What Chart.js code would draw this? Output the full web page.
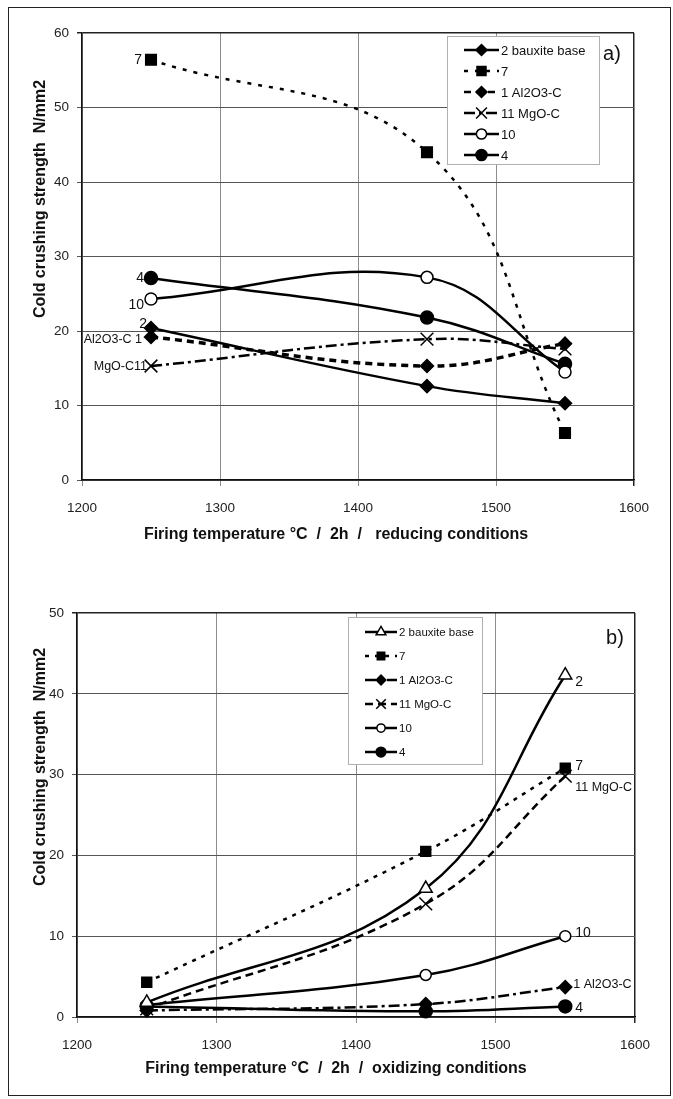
<!DOCTYPE html>
<html>
<head>
<meta charset="utf-8">
<script src="https://cdn.jsdelivr.net/npm/chart.js@4.4.1/dist/chart.umd.min.js"></script>
<style>
    body { margin: 0; background: #fff; }
    #frame { position: absolute; left: 8px; top: 7px; width: 663px; height: 1089px; border: 1px solid #222; box-sizing: border-box; }
    .panel { position: absolute; left: 0; }
</style>
</head>
<body>
<div id="frame"></div>
<canvas id="chartA" class="panel" style="top:0" width="673" height="550"></canvas>
<canvas id="chartB" class="panel" style="top:549px" width="673" height="550"></canvas>
<script>
// firing temperatures (°C)
const temps = [1250, 1450, 1550];

// a) reducing conditions, cold crushing strength N/mm2
const bauxiteA = [20.4, 12.6, 10.3];
const mix7A = [56.4, 44.0, 6.3];
const al2o3A = [19.2, 15.3, 18.3];
const mgoA = [15.3, 18.9, 17.6];
const mix10A = [24.3, 27.2, 14.5];
const mix4A = [27.1, 21.8, 15.6];

// b) oxidizing conditions
const bauxiteB = [1.8, 15.9, 42.3];
const mix7B = [4.3, 20.5, 30.8];
const al2o3B = [0.8, 1.6, 3.7];
const mgoB = [1.0, 14.0, 29.8];
const mix10B = [1.5, 5.2, 10.0];
const mix4B = [1.3, 0.7, 1.3];

const legendA = ['2 bauxite base', '7', '1 Al2O3-C', '11 MgO-C', '10', '4'];
const legendB = ['2 bauxite base', '7', '1 Al2O3-C', '11 MgO-C', '10', '4'];
const pointLabelsA = ['2', '7', 'Al2O3-C 1', 'MgO-C11', '10', '4'];
const pointLabelsB = ['2', '7', '1 Al2O3-C', '11 MgO-C', '10', '4'];

const FONT = "'Liberation Sans', Arial, sans-serif";

// line / marker looks
const stylesA = [
    { dash: [], width: 2.5, point: 'rectRot', r: 6.5, fill: '#000' },
    { dash: [4, 7], width: 2.5, point: 'rect', r: 7.5, fill: '#000' },
    { dash: [7, 5], width: 3.5, point: 'rectRot', r: 6.5, fill: '#000' },
    { dash: [11, 4, 3, 4], width: 2.5, point: 'crossRot', r: 9, fill: '#000' },
    { dash: [], width: 2.5, point: 'circle', r: 6, fill: '#fff' },
    { dash: [], width: 2.5, point: 'circle', r: 6.5, fill: '#000' }
];
const stylesB = [
    { dash: [], width: 2.5, point: 'triangle', r: 7.5, fill: '#fff' },
    { dash: [4, 6], width: 2.5, point: 'rect', r: 7, fill: '#000' },
    { dash: [11, 4, 3, 4], width: 2.5, point: 'rectRot', r: 6.5, fill: '#000' },
    { dash: [8, 5], width: 2.5, point: 'crossRot', r: 9, fill: '#000' },
    { dash: [], width: 2.5, point: 'circle', r: 5.5, fill: '#fff' },
    { dash: [], width: 2.5, point: 'circle', r: 6.5, fill: '#000' }
];
// label offsets from the point they belong to
const labelOffsetsA = [[-4, -4], [-9, 0], [-9, 3], [-4, 1], [-7, 6], [-7, 0]];
const labelOffsetsB = [[10, 7], [10, -2], [8, -3], [10, 11], [10, -3], [10, 2]];

function buildDatasets(seriesList, names, styles) {
    return seriesList.map((vals, i) => ({
        label: names[i],
        data: vals.map((v, k) => ({ x: temps[k], y: v })),
        borderColor: '#000',
        borderWidth: styles[i].width,
        borderDash: styles[i].dash,
        tension: 0.4,
        pointStyle: styles[i].point,
        pointRadius: styles[i].r,
        pointBackgroundColor: styles[i].fill,
        pointBorderColor: '#000',
        pointBorderWidth: 1.5,
        clip: false
    }));
}

function decorations(cfg) {
    return {
        id: 'decor',
        afterDatasetsDraw(chart) {
            const ctx = chart.ctx;
            ctx.save();
            ctx.fillStyle = '#111';
            ctx.textBaseline = 'middle';
            chart.data.datasets.forEach((ds, i) => {
                const meta = chart.getDatasetMeta(i);
                const pt = meta.data[cfg.labelIndex];
                const off = cfg.labelOffsets[i];
                const txt = cfg.pointLabels[i];
                ctx.font = (txt.length > 3 ? '12.5px ' : '14px ') + FONT;
                ctx.textAlign = cfg.labelAlign;
                ctx.fillText(txt, pt.x + off[0], pt.y + off[1]);
            });
            ctx.restore();
        },
        afterDraw(chart) {
            const ctx = chart.ctx;
            const lg = cfg.legend;
            ctx.save();
            // legend box
            ctx.fillStyle = '#fff';
            ctx.fillRect(lg.x, lg.y, lg.w, lg.h);
            ctx.strokeStyle = '#b0b0b0';
            ctx.lineWidth = 1;
            ctx.strokeRect(lg.x + 0.5, lg.y + 0.5, lg.w, lg.h);
            chart.data.datasets.forEach((ds, i) => {
                const st = cfg.styles[i];
                const y = lg.row0 + i * lg.rowH;
                ctx.strokeStyle = '#000';
                ctx.lineWidth = Math.min(st.width, 2.5);
                ctx.setLineDash(st.dash);
                ctx.beginPath();
                ctx.moveTo(lg.s0, y);
                ctx.lineTo(lg.s1, y);
                ctx.stroke();
                ctx.setLineDash([]);
                ctx.fillStyle = st.fill;
                ctx.lineWidth = 1.5;
                Chart.helpers.drawPoint(ctx, { pointStyle: st.point, radius: st.r * lg.scale, borderWidth: 1.5, rotation: 0 }, (lg.s0 + lg.s1) / 2, y);
                ctx.fillStyle = '#111';
                ctx.font = lg.font + 'px ' + FONT;
                ctx.textAlign = 'left';
                ctx.textBaseline = 'middle';
                ctx.fillText(cfg.legendNames[i], lg.textX, y + 1);
            });
            // panel letter
            ctx.font = '20px ' + FONT;
            ctx.textAlign = 'center';
            ctx.fillText(cfg.letter.text, cfg.letter.x, cfg.letter.y);
            // axis titles
            ctx.font = 'bold 16px ' + FONT;
            ctx.fillText(cfg.xTitle.text, cfg.xTitle.x, cfg.xTitle.y);
            ctx.translate(cfg.yTitle.x, cfg.yTitle.y);
            ctx.rotate(-Math.PI / 2);
            ctx.fillText(cfg.yTitle.text, 0, 0);
            ctx.restore();
        }
    };
}

function makeChart(id, datasets, cfg) {
    const tickFont = { family: FONT, size: 13.5 };
    return new Chart(id, {
        type: 'line',
        data: { datasets: datasets },
        options: {
            responsive: false,
            animation: false,
            layout: { padding: { left: cfg.area.left - 60, top: cfg.area.top, right: 673 - cfg.area.right, bottom: 0 } },
            plugins: { legend: { display: false }, tooltip: { enabled: false } },
            scales: {
                x: {
                    type: 'linear',
                    min: 1200,
                    max: 1600,
                    ticks: { stepSize: 100, padding: 14, color: '#222', font: tickFont, callback: v => v },
                    grid: { color: c => c.tick.value === 1600 ? '#222' : '#8c8c8c', lineWidth: c => c.tick.value === 1600 ? 1.5 : 1, tickLength: 6 },
                    border: { color: '#111', width: 1.5 },
                    afterFit: s => { s.height = 550 - cfg.area.bottom; }
                },
                y: {
                    min: 0,
                    max: cfg.yMax,
                    ticks: { stepSize: 10, padding: 8, color: '#222', font: tickFont },
                    grid: { color: c => c.tick.value === cfg.yMax ? '#222' : '#555', lineWidth: c => c.tick.value === cfg.yMax ? 1.5 : 1, tickLength: 5 },
                    border: { color: '#111', width: 1.5 },
                    afterFit: s => { s.width = 60; }
                }
            }
        },
        plugins: [decorations(cfg)]
    });
}

makeChart('chartA',
    buildDatasets([bauxiteA, mix7A, al2o3A, mgoA, mix10A, mix4A], legendA, stylesA),
    {
        area: { left: 82, top: 33, right: 634, bottom: 480 },
        yMax: 60,
        styles: stylesA,
        legendNames: legendA,
        pointLabels: pointLabelsA,
        labelOffsets: labelOffsetsA,
        labelIndex: 0,
        labelAlign: 'right',
        legend: { x: 447, y: 36, w: 152, h: 128, row0: 50, rowH: 21, s0: 464, s1: 499, textX: 501, font: 13, scale: 0.85 },
        letter: { text: 'a)', x: 612, y: 54 },
        xTitle: { text: 'Firing temperature °C  /  2h  /   reducing conditions', x: 336, y: 535 },
        yTitle: { text: 'Cold crushing strength  N/mm2', x: 41, y: 199 }
    });

makeChart('chartB',
    buildDatasets([bauxiteB, mix7B, al2o3B, mgoB, mix10B, mix4B], legendB, stylesB),
    {
        area: { left: 77, top: 64, right: 635, bottom: 468 },
        yMax: 50,
        styles: stylesB,
        legendNames: legendB,
        pointLabels: pointLabelsB,
        labelOffsets: labelOffsetsB,
        labelIndex: 2,
        labelAlign: 'left',
        legend: { x: 348, y: 68, w: 134, h: 147, row0: 83, rowH: 24, s0: 365, s1: 397, textX: 399, font: 11.5, scale: 0.75 },
        letter: { text: 'b)', x: 615, y: 89 },
        xTitle: { text: 'Firing temperature °C  /  2h  /  oxidizing conditions', x: 336, y: 520 },
        yTitle: { text: 'Cold crushing strength  N/mm2', x: 41, y: 218 }
    });
</script>
</body>
</html>
